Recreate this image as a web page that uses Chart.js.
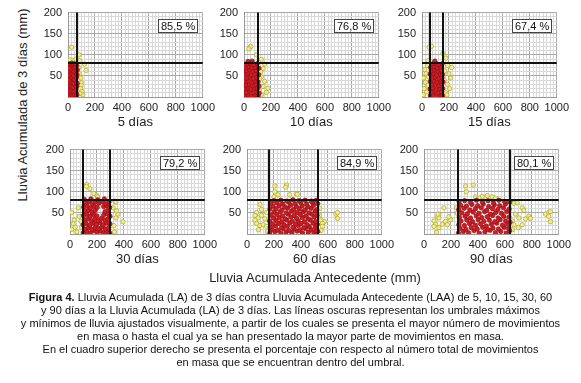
<!DOCTYPE html>
<html lang="es">
<head>
<meta charset="UTF-8">
<title>Figura 4 - Lluvia acumulada</title>
<style>
  body { margin: 0; background: #fff; font-family: 'Liberation Sans', Arial, sans-serif; color: #111; }
  .wrap { position: relative; width: 581px; height: 383px; overflow: hidden; }
  canvas.panel { position: absolute; }
  .ytitle { position: absolute; left: 22px; top: 105px; transform: translate(-50%, -50%) rotate(-90deg); font-size: 13px; white-space: nowrap; color: #222; }
  .xtitle { position: absolute; left: 315px; top: 277px; transform: translate(-50%, -50%); font-size: 13px; white-space: nowrap; color: #222; }
  .caption { position: absolute; left: 0; top: 291px; width: 581px; text-align: center; font-size: 11px; line-height: 13px; white-space: nowrap; }
</style>
</head>
<body>
<div class="wrap">
  <canvas class="panel" id="p1" width="181" height="137" style="left:38px;top:0px"></canvas>
  <canvas class="panel" id="p2" width="181" height="137" style="left:214px;top:0px"></canvas>
  <canvas class="panel" id="p3" width="181" height="137" style="left:392px;top:0px"></canvas>
  <canvas class="panel" id="p4" width="181" height="137" style="left:40px;top:137px"></canvas>
  <canvas class="panel" id="p5" width="181" height="137" style="left:217px;top:137px"></canvas>
  <canvas class="panel" id="p6" width="181" height="137" style="left:394px;top:137px"></canvas>
  <div class="ytitle">Lluvia Acumulada de 3 días (mm)</div>
  <div class="xtitle">Lluvia Acumulada Antecedente (mm)</div>
  <div class="caption">
    <b>Figura 4.</b> Lluvia Acumulada (LA) de 3 días contra Lluvia Acumulada Antecedente (LAA) de 5, 10, 15, 30, 60<br>
    y 90 días a la Lluvia Acumulada (LA) de 3 días. Las líneas oscuras representan los umbrales máximos<br>
    y mínimos de lluvia ajustados visualmente, a partir de los cuales se presenta el mayor número de movimientos<br>
    en masa o hasta el cual ya se han presentado la mayor parte de movimientos en masa.<br>
    En el cuadro superior derecho se presenta el porcentaje con respecto al número total de movimientos<br>
    en masa que se encuentran dentro del umbral.
  </div>
</div>

<script src="https://cdn.jsdelivr.net/npm/chart.js"></script>
<script>
  // panel labels, percentages and thresholds
  const titles = ['5 días', '10 días', '15 días', '30 días', '60 días', '90 días'];
  const percents = ['85,5 %', '76,8 %', '67,4 %', '79,2 %', '84,9 %', '80,1 %'];
  const cutsX = [[70], [105], [58, 155], [95, 300], [165, 530], [250, 640]];
  const cutY = 80;
  const xTicks = [0, 200, 400, 600, 800, 1000];
  const yTicks = [50, 100, 150, 200];

  // points [LAA, LA3] -- red: inside threshold, yellow: outside
  const red5 = [[10,4],[22,8],[35,3],[48,6],[60,10],[15,14],[30,17],[44,13],[58,19],[66,5],
    [8,24],[20,27],[37,23],[52,28],[64,25],[12,34],[27,37],[42,33],[56,38],[68,32],
    [18,44],[33,47],[47,42],[61,46],[9,52],[24,55],[39,51],[54,57],[67,53],[14,62],
    [29,65],[45,61],[59,66],[20,72],[35,75],[50,70],[64,74],[11,78],[26,80],[42,79],[57,78],[69,64],[5,40],[6,68]];
  const yel5 = [[27,118],[82,100],[34,87],[15,88],[60,90],[123,78],[135,63],[88,86],[99,34],[99,28],
    [92,20],[104,13],[85,55],[95,45],[80,70],[110,5],[88,8]];

  const red10 = [[8,3],[30,6],[55,2],[80,5],[105,3],[18,11],[42,14],[68,10],[93,13],[112,9],
    [6,19],[28,22],[52,18],[77,21],[100,20],[15,28],[40,30],[63,27],[88,31],[110,26],
    [9,37],[33,39],[58,35],[82,38],[104,36],[20,45],[45,47],[70,44],[95,46],
    [7,54],[30,56],[55,52],[80,55],[108,53],[17,62],[42,64],[66,61],[91,63],
    [10,70],[35,72],[60,69],[85,71],[110,68],[22,78],[48,80],[73,77],[98,79],[60,85],[30,84]];
  const yel10 = [[44,118],[51,120],[36,114],[93,100],[129,89],[153,78],[141,67],[129,48],[153,37],[178,21],
    [166,11],[141,25],[117,44],[125,60],[130,5],[115,15]];

  const red15 = [[62,3],[85,6],[110,2],[135,5],[152,3],[70,11],[95,14],[120,10],[145,13],
    [60,19],[82,22],[107,18],[130,21],[153,20],[72,28],[97,30],[122,27],[146,31],
    [63,37],[88,39],[112,35],[136,38],[155,36],[75,45],[100,47],[124,44],[148,46],
    [61,54],[85,56],[110,52],[134,55],[152,53],[70,62],[94,64],[118,61],[143,63],
    [64,70],[90,72],[114,69],[138,71],[76,78],[101,80],[126,77],[150,79],[95,85]];
  const yel15 = [[10,5],[15,20],[25,35],[12,45],[30,55],[20,65],[40,75],[35,12],[45,28],[50,48],
    [53,118],[70,120],[155,103],[178,92],[45,86],[190,75],[200,55],[214,45],[178,10],[190,30],
    [205,20],[170,62],[220,70],[185,5],[165,40]];

  const red30 = [[100,3],[125,6],[150,2],[175,8],[200,4],[225,7],[250,3],[275,6],[295,2],
    [110,12],[138,15],[163,11],[188,16],[213,13],[238,17],[263,12],[288,15],
    [98,22],[120,25],[148,21],[172,26],[197,23],[222,27],[247,22],[272,26],[296,24],
    [108,33],[133,36],[158,31],[183,35],[208,32],[233,37],[258,33],[283,36],
    [100,44],[125,47],[150,42],[175,46],[200,43],[250,45],[275,48],[297,42],
    [112,54],[137,57],[162,52],[187,56],[260,53],[285,57],
    [102,64],[127,67],[152,62],[177,66],[202,63],[250,65],[272,67],[294,63],
    [115,74],[140,77],[165,72],[190,76],[215,73],[240,77],[265,72],[290,76],
    [105,82],[155,83],[205,81],[255,83]];
  const yel30 = [[124,118],[124,113],[148,107],[198,92],[205,88],[176,96],[333,78],[341,76],[356,47],[341,38],
    [393,29],[326,20],[62,62],[12,51],[68,42],[31,33],[24,24],[38,16],[12,11],[86,16],
    [50,5],[330,5],[345,55],[320,62],[80,30]];

  const red60 = [[170,3],[208,6],[252,2],[290,5],[333,3],[372,7],[412,2],[455,4],[497,3],[525,6],
    [186,11],[230,9],[268,13],[312,8],[350,12],[394,9],[433,13],[476,10],[515,8],
    [172,17],[212,19],[256,15],[300,18],[342,16],[380,20],[421,15],[462,18],[506,16],
    [191,24],[236,25],[275,22],[318,26],[361,23],[401,25],[446,22],[490,26],[522,23],
    [168,31],[216,32],[258,29],[296,33],[336,30],[378,32],[426,29],[470,33],[511,30],
    [196,38],[241,39],[283,36],[326,40],[369,37],[411,39],[453,36],[499,40],
    [176,45],[221,46],[262,43],[306,47],[351,44],[396,46],[438,43],[481,47],[520,44],
    [201,52],[246,53],[291,50],[331,54],[373,51],[416,53],[461,50],[506,54],
    [171,59],[216,60],[259,57],[301,61],[346,58],[389,60],[431,57],[476,61],[518,58],
    [193,66],[239,67],[281,64],[323,68],[366,65],[409,67],[451,64],[493,68],
    [176,73],[221,74],[266,71],[311,75],[356,72],[399,74],[443,71],[486,75],[525,72],
    [201,79],[251,80],[296,78],[341,81],[386,79],[431,80],[476,78],[516,80]];
  const yel60 = [[206,114],[294,116],[287,111],[206,100],[230,93],[316,93],[365,96],[373,94],[200,88],
    [96,70],[71,51],[59,44],[83,38],[108,44],[59,33],[71,25],[96,20],[120,22],[145,18],[133,36],
    [108,58],[145,51],[150,5],[85,10],[549,33],[574,29],[561,25],[561,18],[537,44],[550,8],[540,60],
    [660,47],[672,51],[672,37]];

  const red90 = [[255,2],[292,6],[330,3],[372,8],[410,2],[452,5],[490,9],[530,3],[570,6],[610,2],[635,8],
    [268,13],[310,11],[350,15],[395,12],[435,16],[470,11],[512,14],[552,12],[595,16],[628,13],
    [258,22],[300,20],[338,25],[380,21],[420,24],[462,19],[500,23],[540,26],[582,21],[620,24],
    [275,31],[318,33],[360,29],[402,34],[445,30],[485,33],[525,29],[565,34],[605,31],[638,28],
    [262,40],[305,42],[345,38],[388,43],[428,39],[470,41],[510,44],[550,38],[592,42],[630,40],
    [280,50],[322,48],[365,52],[408,49],[450,53],[492,47],[532,51],[575,49],[615,53],
    [258,58],[298,61],[340,57],[382,60],[425,62],[465,56],[508,60],[548,58],[590,62],[632,59],
    [272,68],[315,66],[355,70],[398,67],[440,71],[480,65],[522,69],[562,67],[605,71],
    [260,77],[302,79],[345,75],[390,80],[432,76],[475,79],[515,74],[555,80],[598,77],[636,76]];
  const yel90 = [[309,114],[365,116],[314,100],[383,88],[432,89],[469,91],[506,88],[408,85],[531,85],
    [148,62],[111,47],[99,40],[111,38],[74,31],[86,23],[111,15],[136,23],[160,30],[173,22],[198,34],
    [185,41],[247,49],[240,62],[104,47],[74,18],[93,4],
    [667,73],[692,74],[729,62],[741,56],[679,47],[704,38],[753,36],[778,42],[790,37],[655,31],
    [667,22],[729,22],[655,10],[700,15],[901,47],[926,51],[938,53],[926,42],[938,29]];

  const reds = [red5, red10, red15, red30, red60, red90];
  const yellows = [yel5, yel10, yel15, yel30, yel60, yel90];

  const FONT = "'Liberation Sans', Arial, sans-serif";

  // black threshold lines + percentage box
  const umbrales = {
    id: 'umbrales',
    afterDatasetsDraw(chart, args, opts) {
      const { ctx, chartArea: a, scales: { x, y } } = chart;
      ctx.save();
      ctx.strokeStyle = '#111';
      ctx.lineWidth = 2;
      ctx.beginPath();
      opts.cuts.forEach(v => {
        const px = Math.round(x.getPixelForValue(v));
        ctx.moveTo(px, a.top);
        ctx.lineTo(px, a.bottom);
      });
      const py = Math.round(y.getPixelForValue(opts.top));
      ctx.moveTo(a.left, py);
      ctx.lineTo(a.right, py);
      ctx.stroke();

      ctx.font = '11px ' + FONT;
      const w = Math.round(ctx.measureText(opts.pct).width) + 5;
      const bh = 13;
      const bx = Math.round(a.right - 6 - w), by = Math.round(a.top + 6);
      ctx.fillStyle = '#fff';
      ctx.fillRect(bx, by, w, bh);
      ctx.strokeStyle = '#444';
      ctx.lineWidth = 1;
      ctx.strokeRect(bx + 0.5, by + 0.5, w, bh);
      ctx.fillStyle = '#111';
      ctx.textBaseline = 'middle';
      ctx.fillText(opts.pct, bx + 3, by + bh / 2 + 1);
      ctx.restore();
    }
  };

  function gridColor(c, step) {
    if (!c.tick) return '#d9d9d9';
    return c.tick.value % step === 0 ? '#a8a8a8' : '#d9d9d9';
  }

  function panel(i) {
    new Chart(document.getElementById('p' + (i + 1)), {
      type: 'scatter',
      data: {
        datasets: [
          { data: reds[i].map(p => ({ x: p[0], y: p[1] })), backgroundColor: '#d21c24', borderColor: '#8c1016', borderWidth: 0.7, pointRadius: 2.2 },
          { data: yellows[i].map(p => ({ x: p[0], y: p[1] })), backgroundColor: '#f1ef86', borderColor: '#aba23c', borderWidth: 0.7, pointRadius: 2.2 }
        ]
      },
      options: {
        responsive: false,
        animation: false,
        events: [],
        layout: { padding: { top: 6, right: 14, left: 0, bottom: 0 } },
        plugins: {
          legend: { display: false },
          tooltip: { enabled: false },
          umbrales: { cuts: cutsX[i], top: cutY, pct: percents[i] }
        },
        scales: {
          x: {
            type: 'linear', min: 0, max: 1000,
            afterFit(s) { s.height = 40; },
            ticks: { stepSize: 25, autoSkip: false, maxRotation: 0, padding: 4, color: '#222', font: { size: 11, family: FONT },
              callback: v => xTicks.includes(v) ? v : '' },
            grid: { drawTicks: false, color: c => gridColor(c, 200), lineWidth: 1 },
            border: { color: '#999' },
            title: { display: true, text: titles[i], color: '#222', font: { size: 13, family: FONT }, padding: { top: 0, bottom: 7 } }
          },
          y: {
            min: 0, max: 200,
            afterFit(s) { s.width = 30; },
            ticks: { stepSize: 10, autoSkip: false, padding: 6, color: '#222', font: { size: 11, family: FONT },
              callback: v => yTicks.includes(v) ? v : '' },
            grid: { drawTicks: false, color: c => gridColor(c, 50), lineWidth: 1 },
            border: { color: '#999' }
          }
        }
      },
      plugins: [umbrales]
    });
  }

  for (let i = 0; i < 6; i++) panel(i);
</script>
</body>
</html>
